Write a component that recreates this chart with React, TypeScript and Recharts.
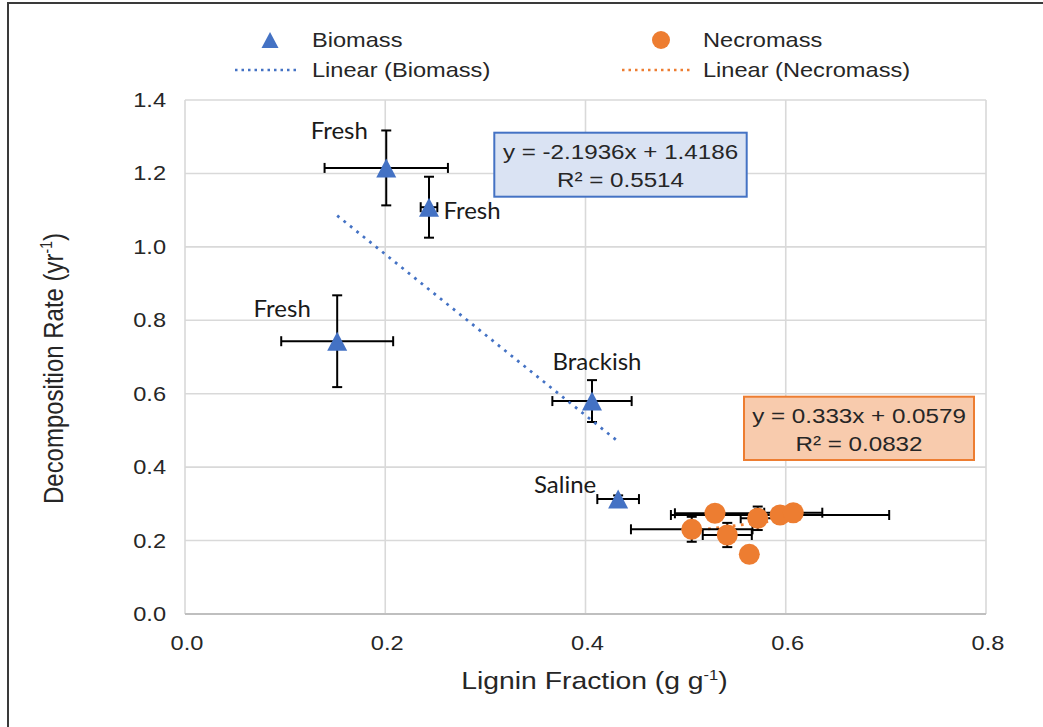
import React from "react";
import { ScatterChart, Scatter, XAxis, YAxis, CartesianGrid, ErrorBar, ReferenceLine } from "recharts";

// Biomass: lignin fraction (g/g) vs decomposition rate (1/yr), one point per site
const biomassLignin = [0.201, 0.2437, 0.152, 0.4065, 0.4326];
const biomassRate = [1.215, 1.108, 0.743, 0.58, 0.313];
const biomassLigninErr = [0.0616, 0.0083, 0.0559, 0.0396, 0.0208];
const biomassRateErr = [0.102, 0.083, 0.125, 0.057, 0.01];
const biomassSites = ["Fresh", "Fresh", "Fresh", "Brackish", "Saline"];

// Necromass points
const necromassLignin = [0.5293, 0.5061, 0.5416, 0.5636, 0.572, 0.5943, 0.6075];
const necromassRate = [0.2743, 0.2307, 0.2152, 0.1626, 0.2607, 0.2697, 0.2759];
const necromassLigninErr = [0.04, 0.0607, 0.0245, 0.005, 0.017, 0.109, 0.029];
const necromassRateErr = [0.015, 0.034, 0.033, 0.01, 0.032, 0.01, 0.015];

// linear fits
const biomassFit = { slope: -2.1936, intercept: 1.4186, r2: 0.5514 };
const necromassFit = { slope: 0.333, intercept: 0.0579, r2: 0.0832 };

const xTicks = [0, 0.2, 0.4, 0.6, 0.8];
const yTicks = [0, 0.2, 0.4, 0.6, 0.8, 1.0, 1.2, 1.4];

// where each site label sits relative to its marker (px)
const siteLabelOffsets = [
  [-47, -37],
  [43, 3],
  [-55, -33],
  [5, -40],
  [-53, -15],
];

const BLUE = "#4472C4";
const ORANGE = "#ED7D31";
const INK = "#262626";
const SANS = "'Liberation Sans', Arial, sans-serif";
const STRETCH = 1.18;

const biomassRows = biomassLignin.map((x, i) => ({
  idx: i,
  x,
  y: biomassRate[i],
  xErr: biomassLigninErr[i],
  yErr: biomassRateErr[i],
  site: biomassSites[i],
}));

const necromassRows = necromassLignin.map((x, i) => ({
  idx: i,
  x,
  y: necromassRate[i],
  xErr: necromassLigninErr[i],
  yErr: necromassRateErr[i],
}));

const fitSegment = (fit: { slope: number; intercept: number }, xs: number[]) => {
  const lo = Math.min(...xs);
  const hi = Math.max(...xs);
  return [
    { x: lo, y: fit.slope * lo + fit.intercept },
    { x: hi, y: fit.slope * hi + fit.intercept },
  ];
};

const fmtEq = (fit: { slope: number; intercept: number }) =>
  `y = ${fit.slope}x + ${fit.intercept}`;

const XTick = ({ x, y, payload }: any) => (
  <text
    transform={`translate(${x + 2},${y + 36}) scale(${STRETCH},1)`}
    textAnchor="middle"
    fontSize={20}
    fill={INK}
    fontFamily={SANS}
  >
    {Number(payload.value).toFixed(1)}
  </text>
);

const YTick = ({ x, y, payload }: any) => (
  <text
    transform={`translate(${x - 19},${y + 7}) scale(${STRETCH},1)`}
    textAnchor="end"
    fontSize={20}
    fill={INK}
    fontFamily={SANS}
  >
    {Number(payload.value).toFixed(1)}
  </text>
);

const BiomassMarker = (props: any) => {
  const { cx, cy, payload } = props;
  const [dx, dy] = siteLabelOffsets[payload.idx];
  return (
    <g>
      <polygon points={`${cx},${cy - 9.5} ${cx - 10},${cy + 9.5} ${cx + 10},${cy + 9.5}`} fill={BLUE} />
      <text
        x={cx + dx}
        y={cy + dy + 8.5}
        textAnchor="middle"
        fontSize={24}
        fontFamily="Lato, 'Open Sans', sans-serif"
        fill="#1a1a1a"
      >
        {payload.site}
      </text>
    </g>
  );
};

const NecromassMarker = (props: any) => (
  <circle cx={props.cx} cy={props.cy} r={10.5} fill={ORANGE} />
);

const Hidden = () => <g />;

const EqBox = ({ x, y, w, h, fill, stroke, fit }: any) => (
  <g>
    <rect x={x} y={y} width={w} height={h} fill={fill} stroke={stroke} strokeWidth={2} />
    <text
      transform={`translate(${x + w / 2},${y + 26.6}) scale(${STRETCH},1)`}
      textAnchor="middle"
      fontSize={20.5}
      fill={INK}
    >
      {fmtEq(fit)}
    </text>
    <text
      transform={`translate(${x + w / 2},${y + 54}) scale(${STRETCH},1)`}
      textAnchor="middle"
      fontSize={20.5}
      fill={INK}
    >
      {`R² = ${fit.r2}`}
    </text>
  </g>
);

const LegendText = ({ x, y, children }: any) => (
  <text transform={`translate(${x},${y}) scale(${STRETCH},1)`} fontSize={20} fill={INK}>
    {children}
  </text>
);

export default function App() {
  const biomassTrend = fitSegment(biomassFit, biomassLignin);
  const necromassTrend = fitSegment(necromassFit, necromassLignin);

  return (
    <div
      style={{
        position: "fixed",
        left: 0,
        top: 0,
        width: 1043,
        height: 727,
        overflow: "hidden",
        background: "#fff",
        fontFamily: SANS,
      }}
    >
      <div
        style={{
          position: "absolute",
          left: 7,
          top: 2,
          width: 1200,
          height: 900,
          border: "2px solid #3a3a3a",
        }}
      />
      <div style={{ position: "absolute", left: 0, top: 0 }}>
        <ScatterChart width={1043} height={727} margin={{ top: 100, right: 57, bottom: 53, left: 105 }}>
          <CartesianGrid stroke="#d9d9d9" strokeWidth={1.6} />
          <XAxis
            type="number"
            dataKey="x"
            domain={[0, 0.8]}
            ticks={xTicks}
            height={60}
            tickSize={0}
            tickMargin={0}
            tick={<XTick />}
            axisLine={{ stroke: "#bfbfbf", strokeWidth: 2 }}
            tickLine={false}
            allowDataOverflow
          />
          <YAxis
            type="number"
            dataKey="y"
            domain={[0, 1.4]}
            ticks={yTicks}
            width={80}
            tickSize={0}
            tickMargin={0}
            tick={<YTick />}
            axisLine={false}
            tickLine={false}
            allowDataOverflow
          />
          <ReferenceLine
            segment={necromassTrend}
            stroke={ORANGE}
            strokeWidth={2.75}
            strokeDasharray="2.75 5.5"
            ifOverflow="visible"
          />
          <Scatter
            name="Necromass"
            data={necromassRows}
            shape={<NecromassMarker />}
            isAnimationActive={false}
          >
            <ErrorBar dataKey="xErr" direction="x" width={5} stroke="#000" strokeWidth={2} />
            <ErrorBar dataKey="yErr" direction="y" width={5} stroke="#000" strokeWidth={2} />
          </Scatter>
          <Scatter name="Biomass" data={biomassRows} shape={<BiomassMarker />} isAnimationActive={false}>
            <ErrorBar dataKey="xErr" direction="x" width={5} stroke="#000" strokeWidth={2} />
            <ErrorBar dataKey="yErr" direction="y" width={5} stroke="#000" strokeWidth={2} />
          </Scatter>
          <ReferenceLine
            segment={biomassTrend}
            stroke={BLUE}
            strokeWidth={2.75}
            strokeDasharray="2.75 5.5"
            ifOverflow="visible"
          />
        </ScatterChart>
      </div>

      <svg
        width={1043}
        height={727}
        style={{ position: "absolute", left: 0, top: 0, pointerEvents: "none" }}
        fontFamily={SANS}
      >
        {/* legend */}
        <polygon points="270,32 261.5,48 278.5,48" fill={BLUE} />
        <LegendText x={312} y={47}>Biomass</LegendText>
        <line x1={235} y1={70} x2={299} y2={70} stroke={BLUE} strokeWidth={2.5} strokeDasharray="2.5 4" />
        <LegendText x={312} y={77}>Linear (Biomass)</LegendText>
        <circle cx={661} cy={40} r={9} fill={ORANGE} />
        <LegendText x={703} y={47}>Necromass</LegendText>
        <line x1={622} y1={70} x2={691} y2={70} stroke={ORANGE} strokeWidth={2.5} strokeDasharray="2.5 4" />
        <LegendText x={703} y={77}>Linear (Necromass)</LegendText>

        {/* fit equations */}
        <EqBox x={494.3} y={132.7} w={252.4} h={64} fill="#DAE3F3" stroke={BLUE} fit={biomassFit} />
        <EqBox x={744} y={396.7} w={230} h={63.3} fill="#F8CBAD" stroke={ORANGE} fit={necromassFit} />

        {/* axis titles */}
        <text
          transform={`translate(594.5,689) scale(${STRETCH},1)`}
          textAnchor="middle"
          fontSize={24}
          fill={INK}
        >
          Lignin Fraction (g g<tspan dy={-9} fontSize={14}>-1</tspan>
          <tspan dy={9}>)</tspan>
        </text>
        <text
          transform={`translate(62.7,368.5) rotate(-90) scale(1,${STRETCH})`}
          textAnchor="middle"
          fontSize={24}
          fill={INK}
        >
          Decomposition Rate (yr<tspan dy={-9} fontSize={14}>-1</tspan>
          <tspan dy={9}>)</tspan>
        </text>
      </svg>
    </div>
  );
}
